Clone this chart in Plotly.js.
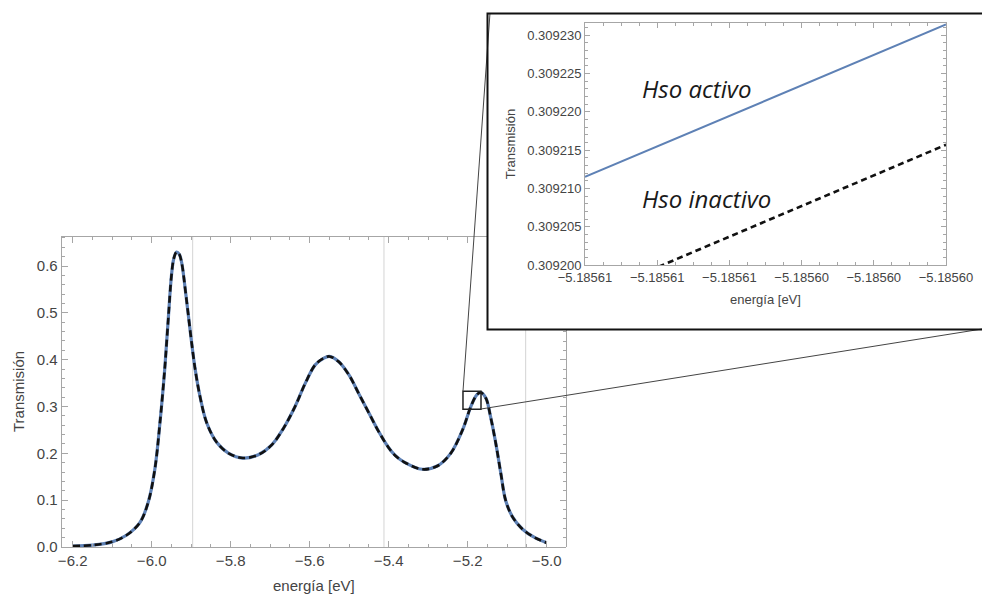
<!DOCTYPE html>
<html>
<head>
<meta charset="utf-8">
<script src="https://cdn.plot.ly/plotly-3.0.1.min.js"></script>
<style>html,body{margin:0;padding:0;background:#fff;}#chart{width:982px;height:596px;}</style>
</head>
<body>
<div id="chart"></div>
<script>
// ---- main curve (energy in eV, transmission) ----
const energy = [-6.20, -6.15, -6.10, -6.064, -6.03, -6.009, -5.992, -5.979, -5.967, -5.958,
  -5.950, -5.944, -5.937, -5.930, -5.924, -5.913, -5.901, -5.890, -5.878, -5.861,
  -5.835, -5.805, -5.769, -5.730, -5.696, -5.666, -5.637, -5.611, -5.586, -5.565,
  -5.550, -5.527, -5.501, -5.476, -5.450, -5.425, -5.400, -5.383, -5.362, -5.315,
  -5.277, -5.243, -5.213, -5.192, -5.177, -5.167, -5.154, -5.142, -5.129, -5.116,
  -5.104, -5.087, -5.061, -5.032, -5.000];
const transActive = [0.002, 0.004, 0.011, 0.025, 0.052, 0.095, 0.166, 0.266, 0.380, 0.487,
  0.579, 0.616, 0.630, 0.625, 0.607, 0.536, 0.451, 0.380, 0.323, 0.266,
  0.223, 0.200, 0.190, 0.197, 0.218, 0.254, 0.300, 0.350, 0.389, 0.403,
  0.407, 0.396, 0.368, 0.328, 0.286, 0.246, 0.212, 0.195, 0.182, 0.166,
  0.173, 0.200, 0.250, 0.300, 0.325, 0.330, 0.318, 0.278, 0.222, 0.157,
  0.100, 0.065, 0.038, 0.021, 0.009];
const transInactive = transActive.slice(); // indistinguishable at this scale

// vertical reference lines of the main plot
const gridEnergies = [-5.8962, -5.4119, -5.0532];

// zoom window drawn on the main plot
const zoomBoxE = [-5.2119, -5.1663];
const zoomBoxT = [0.2944, 0.3328];

// ---- inset (zoomed) data ----
const energyZoom = [-5.18561, -5.18560];
const activeZoom = [0.3092115, 0.3092314];
const inactiveZoom = [0.3091957, 0.3092157];
const xTicksZoom = [-5.18561, -5.185608, -5.185606, -5.185604, -5.185602, -5.18560];
const yTicksZoom = [0.309200, 0.309205, 0.309210, 0.309215, 0.309220, 0.309225, 0.309230];

const labelActive = 'Hso activo';
const labelInactive = 'Hso inactivo';

// ---- styling ----
const FRAME = '#a6a6a6';
const TXT = '#444444';
const FONT = 'Liberation Sans, Arial, sans-serif';
const BLUE = '#5E81B5';
const W = 982, H = 596;
const px = v => v / W;
const py = v => 1 - v / H;

const traces = [
  {x: energy, y: transActive, type: 'scatter', mode: 'lines', xaxis: 'x', yaxis: 'y',
   line: {color: BLUE, width: 3.2, shape: 'spline', smoothing: 1}, hoverinfo: 'skip'},
  {x: energy, y: transInactive, type: 'scatter', mode: 'lines', xaxis: 'x', yaxis: 'y',
   line: {color: '#111111', width: 2.6, dash: '7px,4px', shape: 'spline', smoothing: 1}, hoverinfo: 'skip'},
  {x: energyZoom, y: activeZoom, type: 'scatter', mode: 'lines', xaxis: 'x2', yaxis: 'y2',
   line: {color: BLUE, width: 2}, hoverinfo: 'skip'},
  {x: energyZoom, y: inactiveZoom, type: 'scatter', mode: 'lines', xaxis: 'x2', yaxis: 'y2',
   line: {color: '#111111', width: 2.6, dash: '6px,4px'}, hoverinfo: 'skip'},
  // empty traces to host the partial top/right frame axes
  {x: [], y: [], type: 'scatter', mode: 'lines', xaxis: 'x3', yaxis: 'y', hoverinfo: 'skip'},
  {x: [], y: [], type: 'scatter', mode: 'lines', xaxis: 'x', yaxis: 'y3', hoverinfo: 'skip'}
];

const tickFontMain = {family: FONT, size: 15, color: TXT};
const tickFontZoom = {family: FONT, size: 13, color: TXT};

const mainX = {domain: [px(61.7), px(566)], range: [-6.2278, -4.9511], anchor: 'y'};
const mainY = {domain: [py(547), py(236)], range: [0, 0.6642], anchor: 'x'};

const shapes = [];
gridEnergies.forEach((e, i) => {
  shapes.push({type: 'line', xref: 'x', yref: 'paper', x0: e, x1: e,
    y0: mainY.domain[0], y1: i === gridEnergies.length - 1 ? py(330) : mainY.domain[1],
    line: {color: '#d4d4d4', width: 1}, layer: 'below'});
});
shapes.push({type: 'rect', xref: 'x', yref: 'y', x0: zoomBoxE[0], x1: zoomBoxE[1],
  y0: zoomBoxT[0], y1: zoomBoxT[1], line: {color: '#222', width: 1.5}, layer: 'above'});
shapes.push({type: 'line', xref: 'paper', yref: 'paper', x0: px(463), y0: py(391), x1: px(490), y1: py(13),
  line: {color: '#444', width: 1}, layer: 'above'});
shapes.push({type: 'line', xref: 'paper', yref: 'paper', x0: px(481), y0: py(409), x1: px(982), y1: py(329),
  line: {color: '#444', width: 1}, layer: 'above'});
shapes.push({type: 'rect', xref: 'paper', yref: 'paper', x0: px(487.5), y0: py(329.5), x1: px(995), y1: py(13.5),
  line: {color: '#111', width: 2}, layer: 'above'});

const layout = {
  width: W, height: H,
  margin: {l: 0, r: 0, t: 0, b: 0},
  paper_bgcolor: '#ffffff', plot_bgcolor: 'rgba(0,0,0,0)',
  showlegend: false,
  xaxis: Object.assign({}, mainX, {
    showline: true, linecolor: FRAME, linewidth: 1, showgrid: false, zeroline: false,
    ticks: 'inside', ticklen: 6, tickcolor: FRAME, tick0: 0, dtick: 0.2, tickformat: '.1f',
    minor: {ticks: 'inside', ticklen: 3, tickcolor: FRAME, tick0: 0, dtick: 0.05, showgrid: false},
    tickfont: tickFontMain,
    title: {text: 'energía [eV]', font: {family: FONT, size: 15, color: TXT}, standoff: 12}
  }),
  yaxis: Object.assign({}, mainY, {
    showline: true, linecolor: FRAME, linewidth: 1, showgrid: false, zeroline: false,
    ticks: 'inside', ticklen: 6, tickcolor: FRAME, tick0: 0, dtick: 0.1, tickformat: '.1f',
    minor: {ticks: 'inside', ticklen: 3, tickcolor: FRAME, tick0: 0, dtick: 0.02, showgrid: false},
    tickfont: tickFontMain,
    title: {text: 'Transmisión', font: {family: FONT, size: 15, color: TXT}, standoff: 8}
  }),
  xaxis3: {
    domain: [mainX.domain[0], px(487)], range: [mainX.range[0], -6.2 + (487 - 72.7) / 395],
    anchor: 'free', position: mainY.domain[1], side: 'top',
    showline: true, linecolor: FRAME, linewidth: 1, showgrid: false, zeroline: false,
    showticklabels: false, ticks: 'inside', ticklen: 6, tickcolor: FRAME, tick0: 0, dtick: 0.2,
    minor: {ticks: 'inside', ticklen: 3, tickcolor: FRAME, tick0: 0, dtick: 0.05, showgrid: false}
  },
  yaxis3: {
    domain: [mainY.domain[0], py(330)], range: [0, (547 - 330) / 467.8],
    anchor: 'free', position: mainX.domain[1], side: 'right',
    showline: true, linecolor: FRAME, linewidth: 1, showgrid: false, zeroline: false,
    showticklabels: false, ticks: 'inside', ticklen: 6, tickcolor: FRAME, tick0: 0, dtick: 0.1,
    minor: {ticks: 'inside', ticklen: 3, tickcolor: FRAME, tick0: 0, dtick: 0.02, showgrid: false}
  },
  xaxis2: {
    domain: [px(585), px(946)], range: [energyZoom[0], energyZoom[1]], anchor: 'y2',
    showline: true, mirror: 'ticks', linecolor: FRAME, linewidth: 1, showgrid: false, zeroline: false,
    ticks: 'inside', ticklen: 5, tickcolor: FRAME, tickmode: 'array', tickvals: xTicksZoom, tickformat: '.5f',
    minor: {tickmode: 'linear', ticks: 'inside', ticklen: 3, tickcolor: FRAME, tick0: -5.18561, dtick: 5e-7, showgrid: false},
    tickfont: tickFontZoom,
    title: {text: 'energía [eV]', font: {family: FONT, size: 13, color: TXT}, standoff: 11}
  },
  yaxis2: {
    domain: [py(265), py(23)], range: [0.3092, 0.3092316], anchor: 'x2',
    showline: true, mirror: 'ticks', linecolor: FRAME, linewidth: 1, showgrid: false, zeroline: false,
    ticks: 'inside', ticklen: 5, tickcolor: FRAME, tickmode: 'array', tickvals: yTicksZoom, tickformat: '.6f',
    minor: {tickmode: 'linear', ticks: 'inside', ticklen: 3, tickcolor: FRAME, tick0: 0.3092, dtick: 1e-6, showgrid: false},
    tickfont: tickFontZoom,
    title: {text: 'Transmisión', font: {family: FONT, size: 13, color: TXT}, standoff: 8}
  },
  annotations: [
    {text: labelActive, xref: 'paper', yref: 'paper', x: px(640), y: py(88), xanchor: 'left', yanchor: 'middle',
     showarrow: false, font: {family: 'Open Sans, Noto Sans, sans-serif', size: 24, style: 'italic', color: '#1a1a1a'}},
    {text: labelInactive, xref: 'paper', yref: 'paper', x: px(640), y: py(198), xanchor: 'left', yanchor: 'middle',
     showarrow: false, font: {family: 'Open Sans, Noto Sans, sans-serif', size: 24, style: 'italic', color: '#1a1a1a'}}
  ],
  shapes: shapes
};

Plotly.newPlot('chart', traces, layout, {staticPlot: true, displayModeBar: false});
</script>
</body>
</html>
